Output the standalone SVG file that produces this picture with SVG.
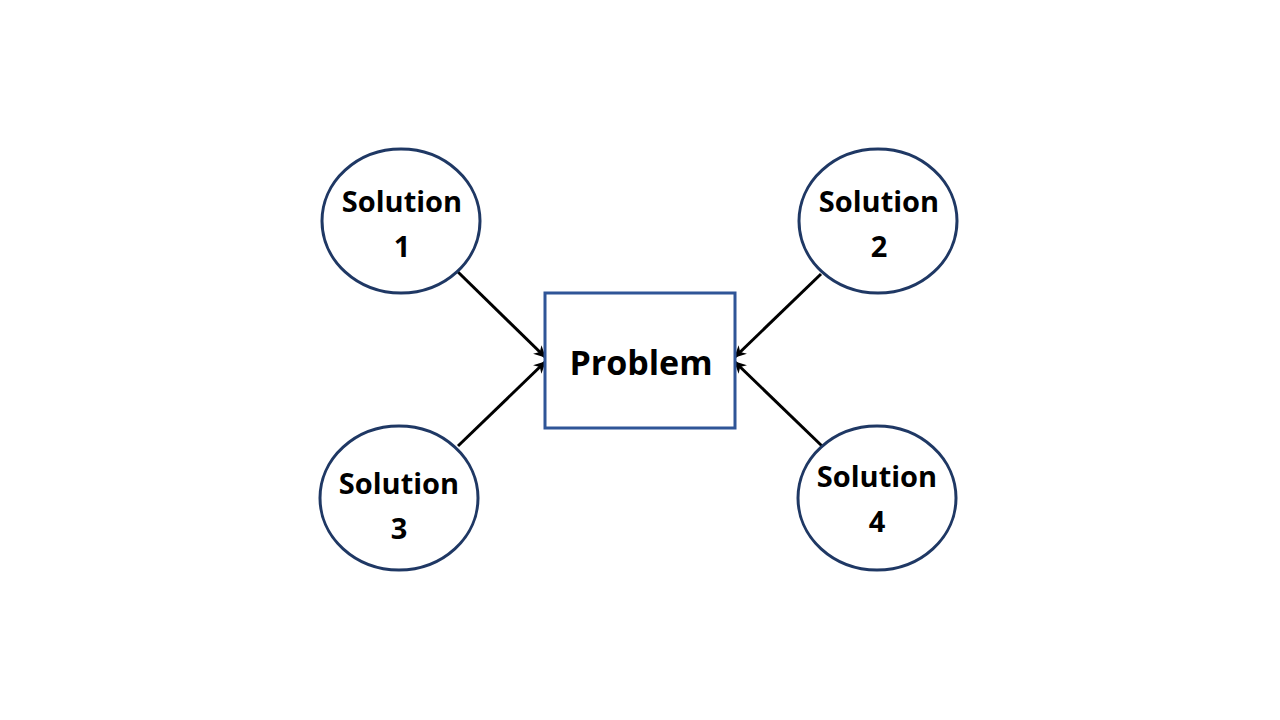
<svg xmlns="http://www.w3.org/2000/svg" width="1280" height="720" viewBox="0 0 1280 720">
<style>
.sol{fill:#fff;stroke:#1f3864;stroke-width:3}
.box{fill:#fff;stroke:#2f5597;stroke-width:3}
.t{font-family:"Open Sans","Liberation Sans",sans-serif;font-weight:bold;fill:#000;text-anchor:middle}
.c{stroke:#000;stroke-width:3;fill:none;marker-end:url(#ah)}
</style>
<defs>
<marker id="ah" viewBox="0 0 10 10" refX="9" refY="5" markerWidth="4" markerHeight="4" orient="auto" markerUnits="strokeWidth">
<path d="M0,0 L10,5 L0,10 L3,5 Z" fill="#000"/>
</marker>
</defs>
<rect width="1280" height="720" fill="#fff"/>
<g id="connectors">
<line class="c" x1="458" y1="272" x2="545" y2="357"/>
<line class="c" x1="821" y1="274" x2="735" y2="357"/>
<line class="c" x1="458" y1="446" x2="545" y2="362"/>
<line class="c" x1="822" y1="446" x2="735" y2="362"/>
</g>
<g id="problem">
<rect class="box" x="545" y="293" width="190" height="135"/>
<text class="t" x="641" y="375" font-size="34">Problem</text>
</g>
<g id="sol1">
<ellipse class="sol" cx="401" cy="221" rx="79" ry="72"/>
<text class="t" x="402" y="212" font-size="29">Solution</text>
<text class="t" x="402" y="257" font-size="29">1</text>
</g>
<g id="sol2">
<ellipse class="sol" cx="878" cy="221" rx="79" ry="72"/>
<text class="t" x="879" y="212" font-size="29">Solution</text>
<text class="t" x="879" y="257" font-size="29">2</text>
</g>
<g id="sol3">
<ellipse class="sol" cx="399" cy="498" rx="79" ry="72"/>
<text class="t" x="399" y="494" font-size="29">Solution</text>
<text class="t" x="399" y="539" font-size="29">3</text>
</g>
<g id="sol4">
<ellipse class="sol" cx="877" cy="498" rx="79" ry="72"/>
<text class="t" x="877" y="487" font-size="29">Solution</text>
<text class="t" x="877" y="532" font-size="29">4</text>
</g>
</svg>
